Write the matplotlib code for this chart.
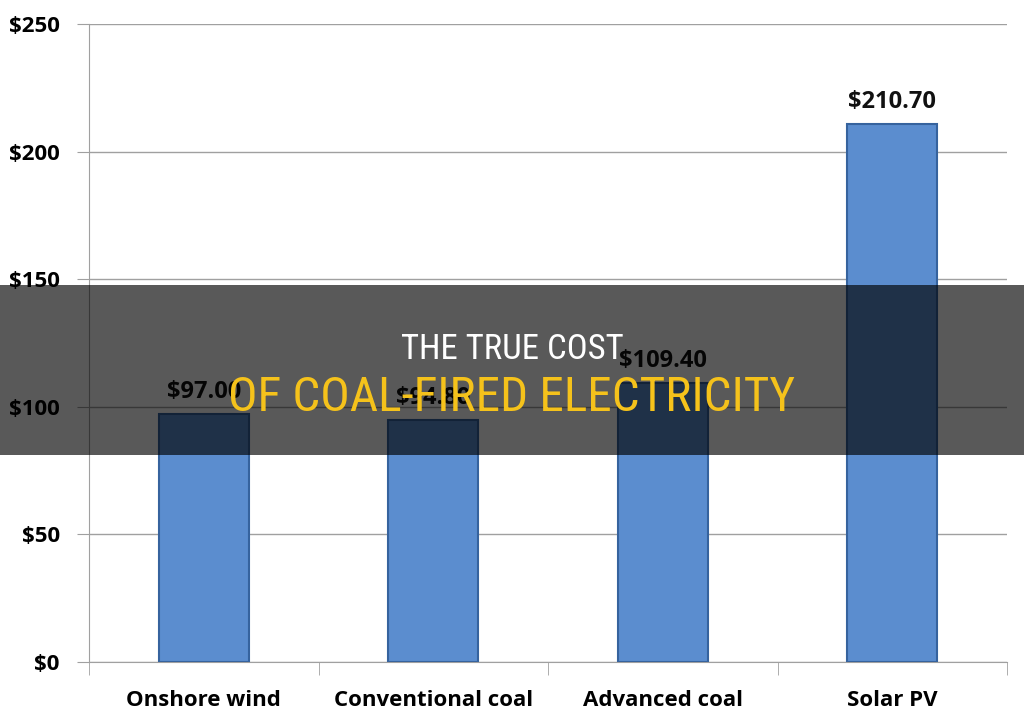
import matplotlib
matplotlib.use("Agg")
import matplotlib.pyplot as plt
from matplotlib.patches import Rectangle
from matplotlib.ticker import FixedLocator, NullFormatter
from matplotlib import font_manager

categories = ["Onshore wind", "Conventional coal", "Advanced coal", "Solar PV"]
values = [97.00, 94.80, 109.40, 210.70]
value_labels = ["$97.00", "$94.80", "$109.40", "$210.70"]
yticks = [0, 50, 100, 150, 200, 250]
ytick_labels = ["$0", "$50", "$100", "$150", "$200", "$250"]
title_line1 = "THE TRUE COST"
title_line2 = "OF COAL-FIRED ELECTRICITY"

names = {f.name for f in font_manager.fontManager.ttflist}
narrow = None
for cand in ["Liberation Sans Narrow", "DejaVu Sans Condensed", "Roboto Condensed", "Open Sans Condensed"]:
    if cand in names:
        narrow = cand
        break

W, H = 1024, 722
fig = plt.figure(figsize=(W / 100, H / 100), dpi=100)
ax = fig.add_axes([89 / W, (H - 662) / H, (1007 - 89) / W, 638 / H])

label_font = ["Open Sans", "DejaVu Sans"]
x = list(range(len(categories)))
ax.bar(x, values, width=0.39, color="#5b8dcf", edgecolor="#36639e", linewidth=1.5, zorder=3)
for xi, v, lab in zip(x, values, value_labels):
    ax.text(xi, v + 4, lab, ha="center", va="bottom", fontsize=17, fontweight="bold",
            family=label_font, color="#111111", zorder=4)

ax.set_xlim(-0.5, len(categories) - 0.5)
ax.set_ylim(0, 250)
ax.set_yticks(yticks)
ax.set_yticklabels(ytick_labels, fontsize=16, fontweight="bold", family=label_font)
ax.yaxis.grid(True, color="#a0a0a0", linewidth=1, zorder=0)
ax.set_axisbelow(True)
ax.tick_params(axis="y", length=9, color="#a0a0a0", pad=12)

ax.set_xticks(x)
ax.set_xticklabels(categories, fontsize=16, fontweight="bold", family=label_font)
ax.tick_params(axis="x", length=0, pad=20)
ax.xaxis.set_minor_locator(FixedLocator([i - 0.5 for i in range(len(categories) + 1)]))
ax.xaxis.set_minor_formatter(NullFormatter())
ax.tick_params(axis="x", which="minor", length=9, color="#a0a0a0")

for s in ["top", "right"]:
    ax.spines[s].set_visible(False)
for s in ["left", "bottom"]:
    ax.spines[s].set_color("#a0a0a0")

# overlay band
fig.patches.append(Rectangle((0, (H - 455) / H), 1, 170 / H, transform=fig.transFigure,
                             facecolor="black", alpha=0.65, zorder=10))
if narrow:
    title_font = [narrow, "DejaVu Sans"]
    s1, s2 = 25, 35.5
else:
    title_font = ["Roboto", "DejaVu Sans"]
    s1, s2 = 23, 31
fig.text(0.5, (H - 349) / H, title_line1, ha="center", va="center", color="white",
         fontsize=s1, family=title_font, zorder=11)
fig.text(0.5, (H - 398) / H, title_line2, ha="center", va="center", color="#f5c21b",
         fontsize=s2, family=title_font, zorder=11)

fig.savefig("out.png", dpi=100)
